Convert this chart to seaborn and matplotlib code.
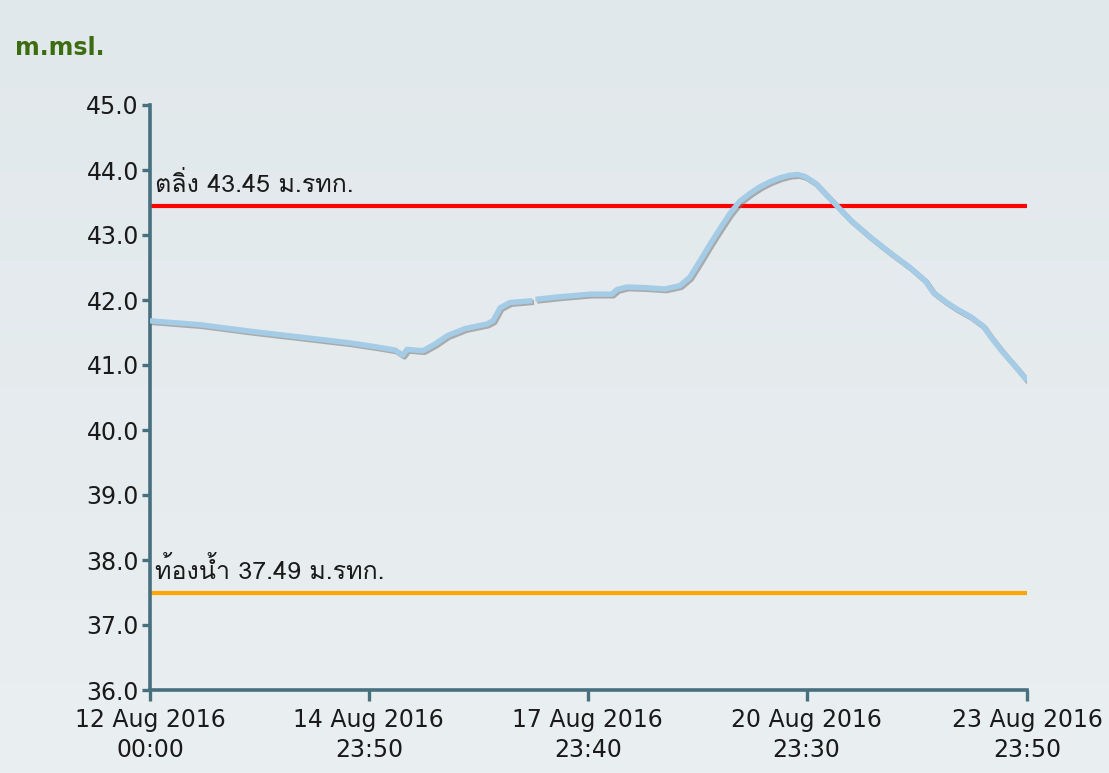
import matplotlib
matplotlib.use("Agg")
import matplotlib.pyplot as plt
import matplotlib.patheffects as pe
from matplotlib.colors import LinearSegmentedColormap
from matplotlib import font_manager as fm
from matplotlib.ft2font import FT2Font
import numpy as np
import pandas as pd
import seaborn as sns

# ---------------- data ----------------
times_a = ["2016-08-12 00:00", "2016-08-12 16:25", "2016-08-13 08:50", "2016-08-14 01:15",
           "2016-08-14 17:40", "2016-08-15 03:30", "2016-08-15 08:25", "2016-08-15 11:00",
           "2016-08-15 12:20", "2016-08-15 17:35", "2016-08-15 21:30", "2016-08-16 01:30",
           "2016-08-16 07:25", "2016-08-16 14:35", "2016-08-16 16:35", "2016-08-16 18:55",
           "2016-08-16 22:05", "2016-08-17 05:30"]
levels_a = [41.68, 41.62, 41.52, 41.43, 41.34, 41.27, 41.23, 41.15, 41.24, 41.22, 41.32,
            41.45, 41.56, 41.63, 41.68, 41.88, 41.96, 41.99]
times_b = ["2016-08-17 06:30", "2016-08-17 14:35", "2016-08-18 00:25", "2016-08-18 07:35",
           "2016-08-18 09:15", "2016-08-18 12:30", "2016-08-18 18:30", "2016-08-19 01:00",
           "2016-08-19 05:55", "2016-08-19 09:10", "2016-08-19 12:30", "2016-08-19 15:50",
           "2016-08-19 19:05", "2016-08-19 22:20", "2016-08-20 01:35", "2016-08-20 04:55",
           "2016-08-20 08:10", "2016-08-20 11:30", "2016-08-20 14:45", "2016-08-20 18:00",
           "2016-08-20 20:40", "2016-08-20 23:00", "2016-08-21 02:20", "2016-08-21 07:10",
           "2016-08-21 13:40", "2016-08-21 20:20", "2016-08-22 02:50", "2016-08-22 09:25",
           "2016-08-22 14:20", "2016-08-22 17:00", "2016-08-22 20:55", "2016-08-23 00:50",
           "2016-08-23 05:05", "2016-08-23 09:25", "2016-08-23 11:40", "2016-08-23 15:00",
           "2016-08-23 17:20", "2016-08-23 20:30", "2016-08-23 23:50"]
levels_b = [42.01, 42.05, 42.09, 42.09, 42.16, 42.20, 42.19, 42.17, 42.22, 42.35, 42.60,
            42.86, 43.10, 43.33, 43.52, 43.64, 43.74, 43.82, 43.88, 43.92, 43.93, 43.90,
            43.80, 43.56, 43.24, 42.97, 42.73, 42.50, 42.30, 42.12, 41.98, 41.86, 41.75,
            41.60, 41.45, 41.25, 41.12, 40.95, 40.76]

bank_level = 43.45
bank_label = "ตลิ่ง 43.45 ม.รทก."
bed_level = 37.49
bed_label = "ท้องน้ำ 37.49 ม.รทก."

y_ticks = [36.0, 37.0, 38.0, 39.0, 40.0, 41.0, 42.0, 43.0, 44.0, 45.0]
x_ticks = ["2016-08-12 00:00", "2016-08-14 23:50", "2016-08-17 23:40",
           "2016-08-20 23:30", "2016-08-23 23:50"]
y_unit = "m.msl."

# ---------------- fonts ----------------
thai_family = None
preferred = ["Noto Sans Thai", "Loma", "Garuda", "Tlwg Typo", "Umpush", "Norasi", "Kinnari"]
cands = sorted(fm.fontManager.ttflist,
               key=lambda f: (0 if f.name in preferred else 1, f.name))
for f in cands:
    try:
        if 0x0E15 in FT2Font(f.fname).get_charmap():
            thai_family = f.name
            break
    except Exception:
        pass
thai_fams = [thai_family, "DejaVu Sans"] if thai_family else ["DejaVu Sans"]

# ---------------- frame ----------------
sns.set_theme(style="white")
plt.rcParams["font.family"] = ["DejaVu Sans"]

df = pd.concat([
    pd.DataFrame({"time": pd.to_datetime(times_a), "level": levels_a, "seg": 0}),
    pd.DataFrame({"time": pd.to_datetime(times_b), "level": levels_b, "seg": 1}),
])

fig = plt.figure(figsize=(11.09, 7.73), dpi=100)
bg = fig.add_axes([0, 0, 1, 1], zorder=-10)
grad = np.linspace(0, 1, 256).reshape(-1, 1)
bg.imshow(grad, aspect="auto", extent=[0, 1, 0, 1],
          cmap=LinearSegmentedColormap.from_list("bg", ["#e1e8eb", "#eaeff1"]))
bg.axis("off")
fig.patch.set_facecolor("#e6ecee")

ax = fig.add_axes([150 / 1109, 1 - 690 / 773, (1027 - 150) / 1109, (690 - 105) / 773])
ax.set_facecolor("none")

spine_c = "#47707f"
ax.axhline(bank_level, color="#ff0000", lw=3.0, zorder=2)
ax.axhline(bed_level, color="#ffa500", lw=3.0, zorder=2)

sns.lineplot(data=df, x="time", y="level", units="seg", estimator=None,
             color="#a5cce6", lw=3.9, ax=ax, zorder=3, solid_capstyle="butt",
             path_effects=[pe.SimpleLineShadow(offset=(1.2, -1.2), shadow_color="#777777", alpha=0.55),
                           pe.Normal()])

xt = pd.to_datetime(x_ticks)
ax.set_xlim(xt[0], xt[-1])
ax.set_ylim(y_ticks[0], y_ticks[-1])
ax.set_xticks(xt)
ax.set_xticklabels([t.strftime("%d Aug %Y\n%H:%M") for t in xt], fontsize=17, color="#1a1a1a",
                   linespacing=1.3)
ax.set_yticks(y_ticks)
ax.set_yticklabels([f"{v:.1f}" for v in y_ticks], fontsize=17, color="#1a1a1a")
ax.set_xlabel("")
ax.set_ylabel("")

for s in ["top", "right"]:
    ax.spines[s].set_visible(False)
for s in ["left", "bottom"]:
    ax.spines[s].set_color(spine_c)
    ax.spines[s].set_linewidth(2.6)
ax.tick_params(axis="y", length=6, width=2.4, color=spine_c, pad=2, left=True)
ax.tick_params(axis="x", length=8, width=2.4, color=spine_c, pad=5, bottom=True)
ax.grid(False)

ax.text(0.006, bank_level + 0.14, bank_label, fontsize=18, color="#1a1a1a",
        family=thai_fams, transform=ax.get_yaxis_transform(), va="bottom", ha="left")
ax.text(0.006, bed_level + 0.14, bed_label, fontsize=18, color="#1a1a1a",
        family=thai_fams, transform=ax.get_yaxis_transform(), va="bottom", ha="left")

fig.text(15 / 1109, 1 - 48 / 773, y_unit, fontsize=17, fontweight="bold",
         color="#3c6b10", va="center", ha="left")

fig.savefig("out.png", dpi=100, facecolor=fig.get_facecolor())
